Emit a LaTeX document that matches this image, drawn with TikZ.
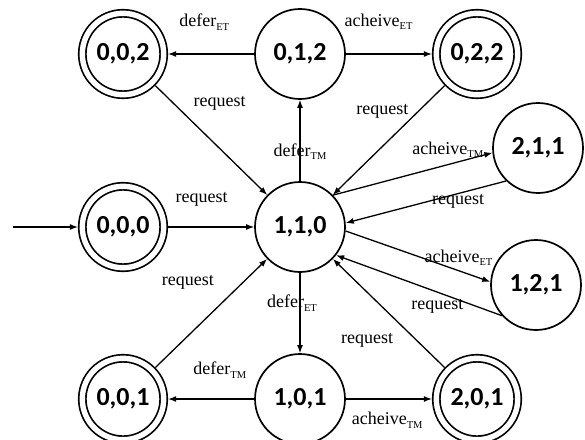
\documentclass[tikz,border=0pt]{standalone}
\usepackage{fontspec}
\setmainfont{Liberation Serif}
\newfontfamily\statefont{Carlito}
\usetikzlibrary{arrows.meta,positioning}

% small lowered index for the action names
\newcommand\lsub[1]{\raisebox{-3.5pt}{\fontsize{10.5}{10.5}\selectfont #1}}

\begin{document}
\begin{tikzpicture}[x=1pt,y=-1pt,>={Latex[length=8pt,width=6pt]},
  node distance=173pt and 177pt,on grid,
  state/.style={draw,circle,line width=1.7pt,minimum size=90pt,inner sep=0pt,
    font=\statefont\bfseries\fontsize{26}{30}\selectfont},
  accept/.style={state,double,double distance=5.4pt,minimum size=81.4pt,outer sep=4.4pt},
  edge/.style={->,line width=1.3pt},
  lbl/.style={font=\fontsize{18}{20}\selectfont,inner sep=1pt}]
\useasboundingbox (0,0) rectangle (585,439);

% states
\node[accept] (n000) at (123,227) {0,0,0};
\node[state,right=of n000] (n110) {1,1,0};
\node[accept,above=of n000] (n002) {0,0,2};
\node[accept,below=172pt of n000] (n001) {0,0,1};
\node[state,above=of n110] (n012) {0,1,2};
\node[state,below=172pt of n110] (n101) {1,0,1};
\node[accept,right=of n012] (n022) {0,2,2};
\node[accept,right=of n101] (n201) {2,0,1};
\node[state,above right=79pt and 238pt of n110] (n211) {2,1,1};
\node[state,below right=58pt and 236pt of n110] (n121) {1,2,1};
\coordinate[left=110pt of n000] (start);

% transitions
\draw[edge] (start) -- (n000);
\draw[edge] (n000) -- node[lbl,pos=.39,yshift=28pt] {request} (n110);
\draw[edge] (n012) -- node[lbl,pos=.58,yshift=32pt] {defer\lsub{ET}} (n002);
\draw[edge] (n012) -- node[lbl,pos=.38,yshift=32pt] {acheive\lsub{ET}} (n022);
\draw[edge] (n002) -- node[lbl,pos=.37,xshift=23pt,yshift=23pt] {request} (n110);
\draw[edge] (n022) -- node[lbl,pos=.40,xshift=-17.5pt,yshift=17.8pt] {request} (n110);
\draw[edge] (n110) -- node[lbl,pos=.36] {defer\lsub{TM}} (n012);
\draw[edge] (n110.44) -- node[lbl,pos=.72,yshift=15pt] {acheive\lsub{TM}} (n211.186);
\draw[edge] (n211.226) -- node[lbl,pos=.30,yshift=-8pt] {request} (n110.5);
\draw[edge] (n110.-5) -- node[lbl,pos=.78,yshift=13pt] {acheive\lsub{ET}} (n121.176);
\draw[edge] (n121.222) -- node[lbl,pos=.39,yshift=-14pt] {request} (n110.-38);
\draw[edge] (n110) -- node[lbl,pos=.375,xshift=-8pt] {defer\lsub{ET}} (n101);
\draw[edge] (n001) -- node[lbl,pos=.53,xshift=-26.6pt,yshift=28pt] {request} (n110);
\draw[edge] (n101) -- node[lbl,pos=.40,yshift=29pt] {defer\lsub{TM}} (n001);
\draw[edge] (n101) -- node[lbl,pos=.48,yshift=-21pt] {acheive\lsub{TM}} (n201);
\draw[edge] (n201) -- node[lbl,pos=.48,xshift=-24pt,yshift=-24.6pt] {request} (n110);
\end{tikzpicture}
\end{document}
